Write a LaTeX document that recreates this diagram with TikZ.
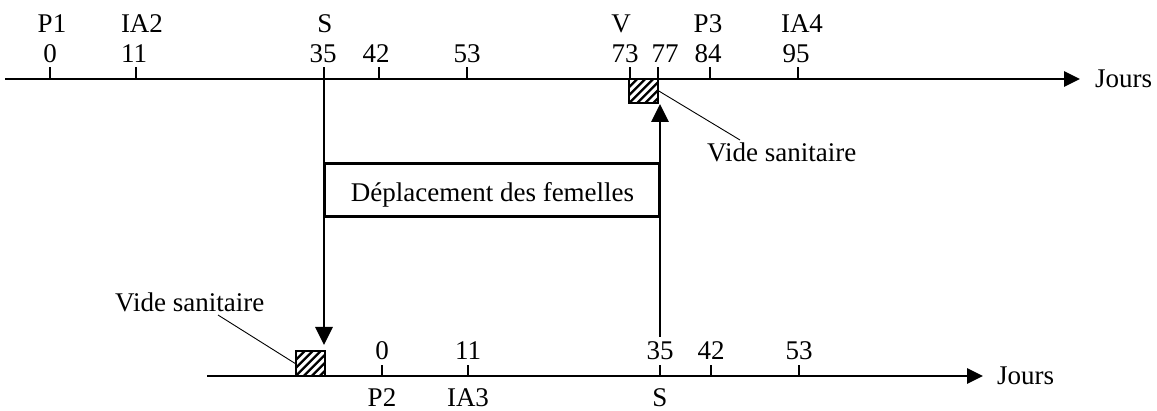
\documentclass[tikz,border=0pt]{standalone}
\usepackage{fontspec}
\setmainfont{Liberation Serif}
\usetikzlibrary{arrows.meta}
\begin{document}
\begin{tikzpicture}[x=1pt,y=-1pt,
  axis/.style={line width=2.8pt, -{Triangle[length=16pt,width=15pt]}},
  tickmark/.style={line width=2.2pt},
  lbl/.style={inner sep=0pt, anchor=base, font=\fontsize{27}{32}\selectfont},
  move/.style={line width=2.8pt, -{Triangle[length=18pt,width=17pt]}},
  hbox/.style={draw, line width=1.6pt, minimum width=29pt, minimum height=24.5pt, inner sep=0pt,
    path picture={\foreach \k in {-40,-32,...,40}
      \draw[line width=2.4pt] ([xshift=\k pt]path picture bounding box.south west) -- ++(40pt,40pt);}},
  leader/.style={line width=0.9pt},
  dbox/.style={draw, line width=3pt, minimum width=335pt, minimum height=53pt, inner sep=0pt,
    font=\fontsize{27}{32}\selectfont}
]
\useasboundingbox (0,0) rectangle (1157,411);

% top axis
\coordinate (tA) at (5,79);
\coordinate (tE) at (1080,79);
\draw[axis] (tA) -- (tE);
\node[lbl, anchor=base west] (tJ) at (1095,88) {Jours};
\foreach \x/\lx/\n in {50/50/0, 136/134/11, 324/323/35, 379/376/42, 467/467/53, 630/625/73, 658/665/77, 710/708/84, 798/796/95}{
  \coordinate (t\n) at (\x,79);
  \draw[tickmark] (t\n) -- ++(0,-12);
  \node[lbl] (tn\n) at (\lx,63) {\n};
}
\foreach \x/\t/\n in {52/P1/a, 142/IA2/b, 325/S/c, 621/V/d, 708/P3/e, 802/IA4/f}{
  \node[lbl] (tl\n) at (\x,33) {\t};
}

% bottom axis
\coordinate (bA) at (207,376);
\coordinate (bE) at (983,376);
\draw[axis] (bA) -- (bE);
\node[lbl, anchor=base west] (bJ) at (997,385) {Jours};
\foreach \x/\n in {382/0, 468/11, 660/35, 711/42, 799/53}{
  \coordinate (b\n) at (\x,376);
  \draw[tickmark] (b\n) -- ++(0,-11);
  \node[lbl] (bn\n) at (\x,360) {\n};
}
\foreach \x/\t/\n in {382/P2/a, 468/IA3/b, 660/S/c}{
  \node[lbl] (bl\n) at (\x,407) {\t};
}

% hatched boxes
\node[hbox] (hb1) at (643.5,91) {};
\node[hbox] (hb2) at (310.5,363.5) {};

% vertical moves
\coordinate (dn) at (324,345);
\draw[move] (t35) -- (dn);
\coordinate (up0) at (660,337);
\coordinate (up1) at (660,104);
\draw[move] (up0) -- (up1);

% displacement box
\node[dbox, fill=white] (dep) at (491.5,190.5) {};
\node[lbl] (deptxt) at (492.5,202) {Déplacement des femelles};

% vide sanitaire labels
\node[lbl, anchor=base west] (v1) at (707,162) {Vide sanitaire};
\node[lbl, anchor=base west] (v2) at (115,312) {Vide sanitaire};
\coordinate (l1) at (740,140);
\coordinate (l2) at (218,315);
\draw[leader] (hb1.east) -- (l1);
\draw[leader] (l2) -- (hb2.west);
\end{tikzpicture}
\end{document}
